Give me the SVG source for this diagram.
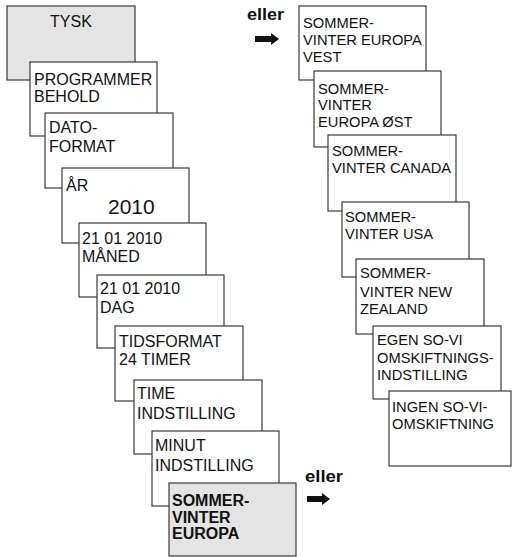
<svg xmlns="http://www.w3.org/2000/svg" width="512" height="557" viewBox="0 0 512 557">
  <defs>
    <style>
      .box { fill: #ffffff; stroke: #3a3a3a; stroke-width: 1.2; }
      .sel { fill: #e3e4e3; }
      .t { font-family: "Liberation Sans", Arial, sans-serif; font-size: 16px; fill: #111111; }
      .r { font-size: 14.7px; }
      .b { font-weight: bold; }
      .or { font-family: "Liberation Sans", Arial, sans-serif; font-size: 16px; font-weight: bold; fill: #111111; }
      .arrow { fill: #111111; }
    </style>
  </defs>
  <rect width="512" height="557" fill="#ffffff"/>

  <!-- left menu sequence, each screen stacked over the previous one -->
  <g id="tysk">
    <rect class="box sel" x="7" y="6" width="128" height="74"/>
    <text class="t" x="71" y="27" text-anchor="middle">TYSK</text>
  </g>
  <g id="programmer-behold">
    <rect class="box" x="30" y="62" width="127" height="74"/>
    <text class="t" x="34" y="85">PROGRAMMER</text>
    <text class="t" x="34" y="102">BEHOLD</text>
  </g>
  <g id="datoformat">
    <rect class="box" x="45" y="113" width="128" height="75"/>
    <text class="t" x="49" y="133">DATO-</text>
    <text class="t" x="49" y="152">FORMAT</text>
  </g>
  <g id="aar">
    <rect class="box" x="62" y="168" width="127" height="75"/>
    <text class="t" x="66" y="191">ÅR</text>
    <text class="t" x="108" y="214" style="font-size:21px">2010</text>
  </g>
  <g id="maaned">
    <rect class="box" x="79" y="223" width="127" height="74"/>
    <text class="t" x="82" y="244">21 01 2010</text>
    <text class="t" x="82" y="262">MÅNED</text>
  </g>
  <g id="dag">
    <rect class="box" x="97" y="275" width="127" height="73"/>
    <text class="t" x="100" y="294">21 01 2010</text>
    <text class="t" x="100" y="313">DAG</text>
  </g>
  <g id="tidsformat">
    <rect class="box" x="115" y="326" width="128" height="75"/>
    <text class="t" x="119" y="347">TIDSFORMAT</text>
    <text class="t" x="119" y="365">24 TIMER</text>
  </g>
  <g id="time-indstilling">
    <rect class="box" x="134" y="380" width="128" height="74"/>
    <text class="t" x="137" y="399">TIME</text>
    <text class="t" x="137" y="419">INDSTILLING</text>
  </g>
  <g id="minut-indstilling">
    <rect class="box" x="152" y="431" width="127" height="75"/>
    <text class="t" x="155" y="451">MINUT</text>
    <text class="t" x="155" y="471">INDSTILLING</text>
  </g>
  <g id="sommer-vinter-europa">
    <rect class="box sel" x="169" y="483" width="127" height="73"/>
    <text class="t b" x="172" y="506">SOMMER-</text>
    <text class="t b" x="172" y="523">VINTER</text>
    <text class="t b" x="172" y="539">EUROPA</text>
  </g>

  <!-- alternative summer/winter time rules -->
  <g id="europa-vest">
    <rect class="box" x="299" y="6" width="127" height="74"/>
    <text class="t r" x="303" y="28">SOMMER-</text>
    <text class="t r" x="303" y="45">VINTER EUROPA</text>
    <text class="t r" x="303" y="62">VEST</text>
  </g>
  <g id="europa-oest">
    <rect class="box" x="314" y="71" width="127" height="76"/>
    <text class="t r" x="318" y="94">SOMMER-</text>
    <text class="t r" x="318" y="110">VINTER</text>
    <text class="t r" x="318" y="127">EUROPA ØST</text>
  </g>
  <g id="canada">
    <rect class="box" x="328" y="135" width="128" height="76"/>
    <text class="t r" x="332" y="156">SOMMER-</text>
    <text class="t r" x="332" y="173">VINTER CANADA</text>
  </g>
  <g id="usa">
    <rect class="box" x="342" y="202" width="127" height="75"/>
    <text class="t r" x="345" y="222">SOMMER-</text>
    <text class="t r" x="345" y="239">VINTER USA</text>
  </g>
  <g id="new-zealand">
    <rect class="box" x="356" y="259" width="128" height="75"/>
    <text class="t r" x="360" y="278">SOMMER-</text>
    <text class="t r" x="360" y="297">VINTER NEW</text>
    <text class="t r" x="360" y="314">ZEALAND</text>
  </g>
  <g id="egen">
    <rect class="box" x="373" y="326" width="128" height="73"/>
    <text class="t r" x="377" y="345">EGEN SO-VI</text>
    <text class="t r" x="377" y="363">OMSKIFTNINGS-</text>
    <text class="t r" x="377" y="380">INDSTILLING</text>
  </g>
  <g id="ingen">
    <rect class="box" x="389" y="391" width="122" height="75"/>
    <text class="t r" x="392" y="412">INGEN SO-VI-</text>
    <text class="t r" x="392" y="429">OMSKIFTNING</text>
  </g>

  <!-- "eller" pointers -->
  <g id="connectors">
    <text class="or" x="247" y="20" textLength="37" lengthAdjust="spacingAndGlyphs">eller</text>
    <polygon class="arrow" points="255,36 271,36 271,33 279,39 271,45 271,42 255,42"/>
    <text class="or" x="305" y="482" textLength="38" lengthAdjust="spacingAndGlyphs">eller</text>
    <polygon class="arrow" points="307,496 322,496 322,493 330,499 322,505 322,502 307,502"/>
  </g>
</svg>
